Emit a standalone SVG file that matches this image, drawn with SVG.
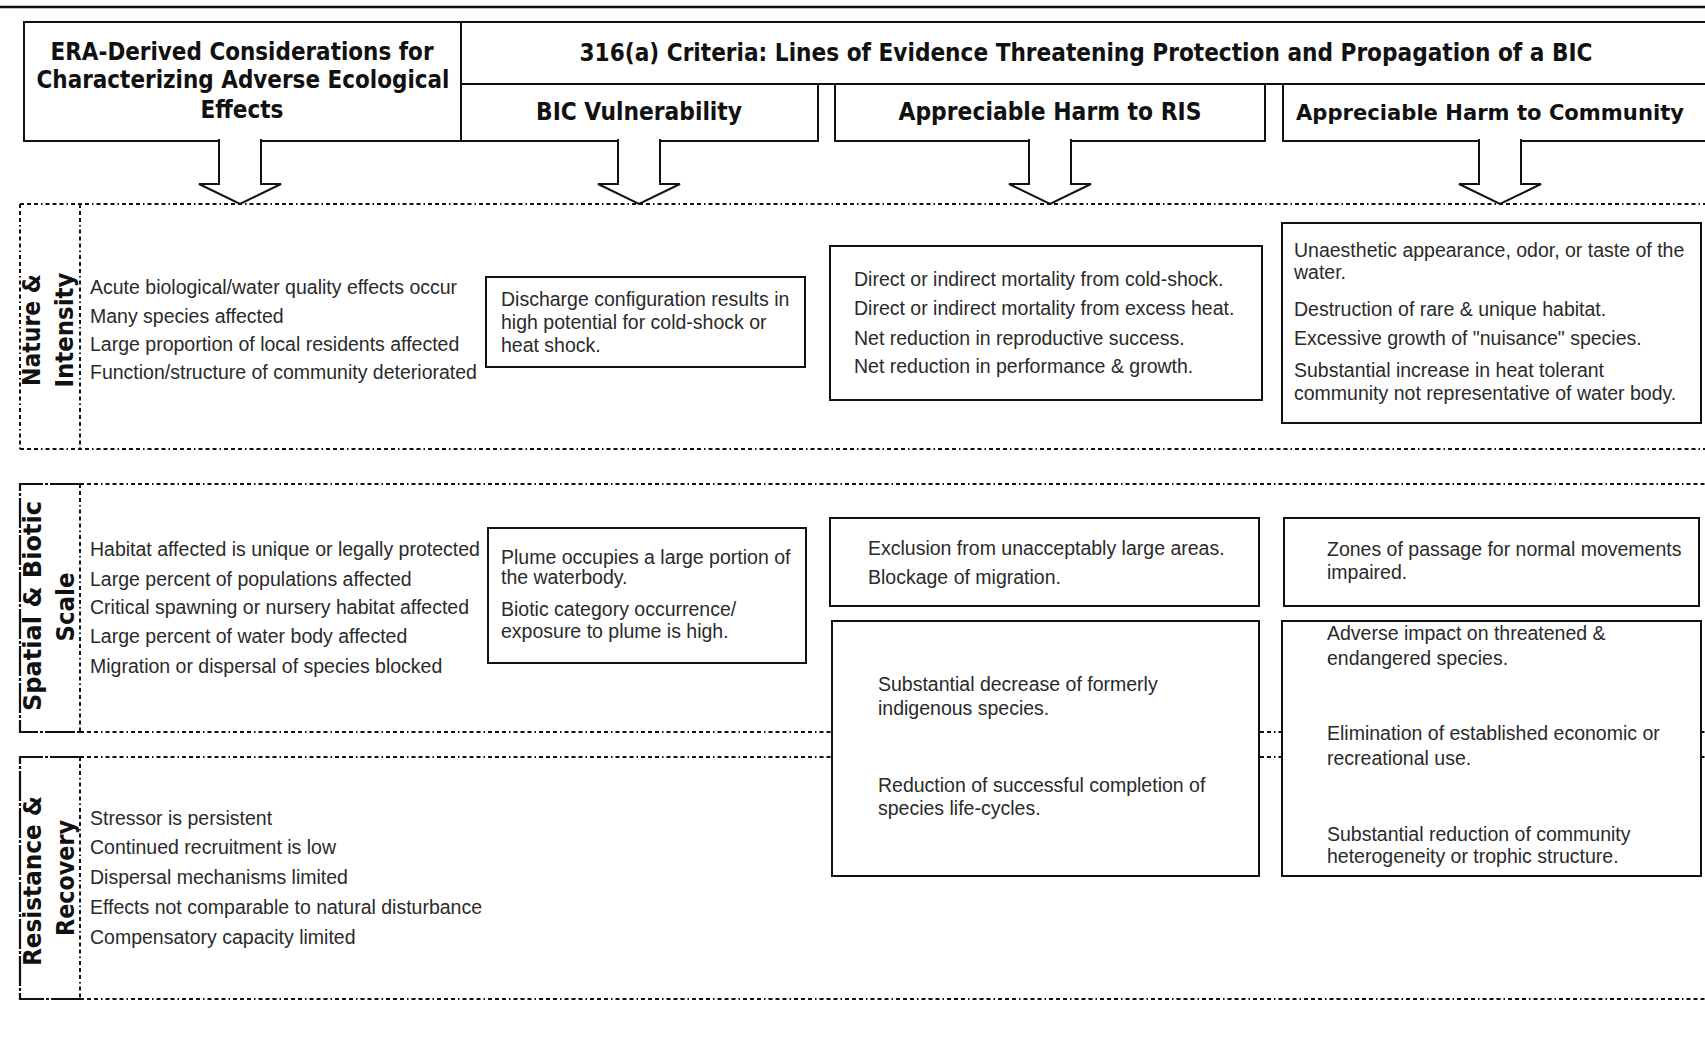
<svg xmlns="http://www.w3.org/2000/svg" width="1705" height="1039" viewBox="0 0 1705 1039">
<style>
.hdr{font-family:"DejaVu Sans",Verdana,sans-serif;font-weight:bold;font-size:24px;fill:#111;text-anchor:middle}
.lbl{font-family:"DejaVu Sans",Verdana,sans-serif;font-weight:bold;font-size:25px;fill:#111;text-anchor:middle}
.t{font-family:"Liberation Sans",Arial,sans-serif;font-size:19.5px;fill:#2a2a2a}
.box{fill:#fff;stroke:#111;stroke-width:2}
.ln{fill:none;stroke:#111;stroke-width:2}
.dot{fill:none;stroke:#111;stroke-width:2;stroke-dasharray:4 3 4 3 4 3 1.5 3}
.dash{fill:none;stroke:#111;stroke-width:2.2;stroke-dasharray:30 2 3 2}
.arrow{fill:#fff;stroke:#111;stroke-width:2;stroke-linejoin:miter}
</style>
<rect x="0" y="0" width="1705" height="1039" fill="#fff"/>
<line x1="0" y1="7" x2="1705" y2="7" stroke="#111" stroke-width="2.5"/>

<!-- section frames -->
<g id="sections">
  <path class="dot" d="M20,204 H1705 M20,449 H1705 M20,204 V449 M80,204 V449"/>
  <path class="dot" d="M80,484 H1705 M80,732 H1705 M80,484 V732"/>
  <path class="dash" d="M80,484 H20 V732 H80"/>
  <path class="dot" d="M80,757 H1705 M80,999 H1705 M80,757 V999"/>
  <path class="dash" d="M80,757 H20 V999 H80"/>
</g>

<!-- header -->
<g id="hdr-era">
  <rect class="box" x="24" y="22" width="437" height="119"/>
  <text class="hdr" x="242" y="60" textLength="383" lengthAdjust="spacingAndGlyphs">ERA-Derived Considerations for</text>
  <text class="hdr" x="243" y="88" textLength="413" lengthAdjust="spacingAndGlyphs">Characterizing Adverse Ecological</text>
  <text class="hdr" x="242" y="118" textLength="83" lengthAdjust="spacingAndGlyphs">Effects</text>
</g>
<g id="hdr-316a">
  <path class="ln" d="M461,22 H1705 M461,84 H1705"/>
  <text class="hdr" x="1086" y="61" textLength="1013" lengthAdjust="spacingAndGlyphs">316(a) Criteria: Lines of Evidence Threatening Protection and Propagation of a BIC</text>
</g>
<g id="hdr-bic">
  <rect class="box" x="461" y="84" width="357" height="57"/>
  <text class="hdr" x="639" y="120" textLength="206" lengthAdjust="spacingAndGlyphs">BIC Vulnerability</text>
</g>
<g id="hdr-ris">
  <rect class="box" x="835" y="84" width="430" height="57"/>
  <text class="hdr" x="1050" y="120" textLength="303" lengthAdjust="spacingAndGlyphs">Appreciable Harm to RIS</text>
</g>
<g id="hdr-community">
  <path class="box" d="M1705,84 H1283 V141 H1705"/>
  <text class="hdr" x="1490" y="120" style="font-size:22px" textLength="388" lengthAdjust="spacingAndGlyphs">Appreciable Harm to Community</text>
</g>

<!-- row labels -->
<g id="lbl-nature">
  <text class="lbl" x="40" y="330" transform="rotate(-90 40 330)" textLength="112" lengthAdjust="spacingAndGlyphs">Nature &amp;</text>
  <text class="lbl" x="73" y="330" transform="rotate(-90 73 330)" textLength="115" lengthAdjust="spacingAndGlyphs">Intensity</text>
</g>
<g id="lbl-spatial">
  <text class="lbl" x="41" y="606" transform="rotate(-90 41 606)" textLength="210" lengthAdjust="spacingAndGlyphs">Spatial &amp; Biotic</text>
  <text class="lbl" x="74" y="607" transform="rotate(-90 74 607)" textLength="69" lengthAdjust="spacingAndGlyphs">Scale</text>
</g>
<g id="lbl-resistance">
  <text class="lbl" x="41" y="881" transform="rotate(-90 41 881)" textLength="170" lengthAdjust="spacingAndGlyphs">Resistance &amp;</text>
  <text class="lbl" x="74" y="878" transform="rotate(-90 74 878)" textLength="116" lengthAdjust="spacingAndGlyphs">Recovery</text>
</g>

<!-- ERA column -->
<g id="era-nature">
  <text class="t"><tspan x="90" y="294">Acute biological/water quality effects occur</tspan><tspan x="90" y="323">Many species affected</tspan><tspan x="90" y="351">Large proportion of local residents affected</tspan><tspan x="90" y="379">Function/structure of community deteriorated</tspan></text>
</g>
<g id="era-spatial">
  <text class="t"><tspan x="90" y="556">Habitat affected is unique or legally protected</tspan><tspan x="90" y="586">Large percent of populations affected</tspan><tspan x="90" y="614">Critical spawning or nursery habitat affected</tspan><tspan x="90" y="643">Large percent of water body affected</tspan><tspan x="90" y="673">Migration or dispersal of species blocked</tspan></text>
</g>
<g id="era-resistance">
  <text class="t"><tspan x="90" y="825">Stressor is persistent</tspan><tspan x="90" y="854">Continued recruitment is low</tspan><tspan x="90" y="884">Dispersal mechanisms limited</tspan><tspan x="90" y="914">Effects not comparable to natural disturbance</tspan><tspan x="90" y="944">Compensatory capacity limited</tspan></text>
</g>

<!-- BIC column -->
<g id="bic-nature">
  <rect class="box" x="486" y="277" width="319" height="90"/>
  <text class="t"><tspan x="501" y="306">Discharge configuration results in</tspan><tspan x="501" y="329">high potential for cold-shock or</tspan><tspan x="501" y="352">heat shock.</tspan></text>
</g>
<g id="bic-spatial">
  <rect class="box" x="488" y="528" width="318" height="135"/>
  <text class="t"><tspan x="501" y="564">Plume occupies a large portion of</tspan><tspan x="501" y="584">the waterbody.</tspan><tspan x="501" y="616">Biotic category occurrence/</tspan><tspan x="501" y="638">exposure to plume is high.</tspan></text>
</g>

<!-- RIS column -->
<g id="ris-nature">
  <rect class="box" x="830" y="246" width="432" height="154"/>
  <text class="t"><tspan x="854" y="286">Direct or indirect mortality from cold-shock.</tspan><tspan x="854" y="315">Direct or indirect mortality from excess heat.</tspan><tspan x="854" y="345">Net reduction in reproductive success.</tspan><tspan x="854" y="373">Net reduction in performance &amp; growth.</tspan></text>
</g>
<g id="ris-spatial">
  <rect class="box" x="830" y="518" width="429" height="88"/>
  <text class="t"><tspan x="868" y="555">Exclusion from unacceptably large areas.</tspan><tspan x="868" y="584">Blockage of migration.</tspan></text>
</g>
<g id="ris-resistance">
  <rect class="box" x="832" y="621" width="427" height="255"/>
  <text class="t"><tspan x="878" y="691">Substantial decrease of formerly</tspan><tspan x="878" y="715">indigenous species.</tspan><tspan x="878" y="792">Reduction of successful completion of</tspan><tspan x="878" y="815">species life-cycles.</tspan></text>
</g>

<!-- Community column -->
<g id="com-nature">
  <rect class="box" x="1282" y="223" width="419" height="200"/>
  <text class="t"><tspan x="1294" y="257">Unaesthetic appearance, odor, or taste of the</tspan><tspan x="1294" y="279">water.</tspan><tspan x="1294" y="316">Destruction of rare &amp; unique habitat.</tspan><tspan x="1294" y="345">Excessive growth of "nuisance" species.</tspan><tspan x="1294" y="377">Substantial increase in heat tolerant</tspan><tspan x="1294" y="400">community not representative of water body.</tspan></text>
</g>
<g id="com-spatial">
  <rect class="box" x="1284" y="518" width="415" height="88"/>
  <text class="t"><tspan x="1327" y="556">Zones of passage for normal movements</tspan><tspan x="1327" y="579">impaired.</tspan></text>
</g>
<g id="com-resistance">
  <rect class="box" x="1282" y="621" width="419" height="255"/>
  <text class="t"><tspan x="1327" y="640">Adverse impact on threatened &amp;</tspan><tspan x="1327" y="665">endangered species.</tspan><tspan x="1327" y="740">Elimination of established economic or</tspan><tspan x="1327" y="765">recreational use.</tspan><tspan x="1327" y="841">Substantial reduction of community</tspan><tspan x="1327" y="863">heterogeneity or trophic structure.</tspan></text>
</g>

<!-- connectors -->
<g id="connectors">
  <path class="arrow" d="M219,139 V184 H199 L240,204 L281,184 H261 V139"/>
  <path class="arrow" d="M618,139 V184 H598 L639,204 L680,184 H660 V139"/>
  <path class="arrow" d="M1029,139 V184 H1009 L1050,204 L1091,184 H1071 V139"/>
  <path class="arrow" d="M1479,139 V184 H1459 L1500,204 L1541,184 H1521 V139"/>
</g>
</svg>
